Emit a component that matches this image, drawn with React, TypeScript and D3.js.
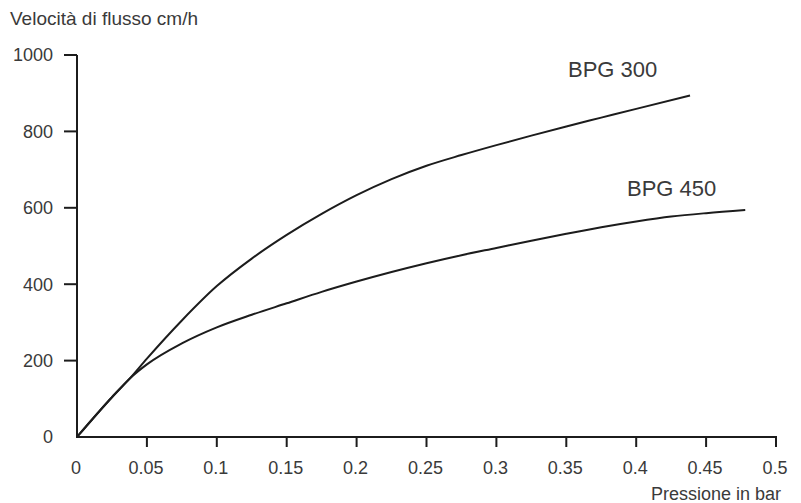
import * as d3 from 'd3'

// readings
const pressure300 = [0, 0.025, 0.038, 0.05, 0.075, 0.1, 0.125, 0.15, 0.175, 0.2, 0.225, 0.25, 0.275, 0.3, 0.325, 0.35, 0.375, 0.4, 0.4385]
const flow300 = [0, 104, 154, 205, 305, 395, 467, 529, 584, 633, 675, 710, 738, 764, 789, 813, 836, 859, 894]
const pressure450 = [0, 0.025, 0.038, 0.05, 0.075, 0.1, 0.125, 0.15, 0.175, 0.2, 0.225, 0.25, 0.275, 0.3, 0.325, 0.35, 0.375, 0.4, 0.425, 0.45, 0.478]
const flow450 = [0, 104, 154, 190, 245, 287, 320, 350, 380, 407, 432, 455, 476, 495, 514, 532, 549, 564, 577, 586, 594]
const xTicks = [0, 0.05, 0.1, 0.15, 0.2, 0.25, 0.3, 0.35, 0.4, 0.45, 0.5]
const yTicks = [0, 200, 400, 600, 800, 1000]

const W = 801
const H = 503
const textColor = '#3a3a3a'
const lineColor = '#1c1c1c'
const font = '"Liberation Sans", Arial, sans-serif'

export default function App() {
  const x = d3.scaleLinear().domain([0, 0.5]).range([77, 776])
  const y = d3.scaleLinear().domain([0, 1000]).range([437, 55])

  const line = d3.line<[number, number]>()
    .x(d => x(d[0]))
    .y(d => y(d[1]))
    .curve(d3.curveMonotoneX)

  const series = [
    { name: 'BPG 300', pts: pressure300.map((p, i) => [p, flow300[i]] as [number, number]), lx: 568, ly: 77 },
    { name: 'BPG 450', pts: pressure450.map((p, i) => [p, flow450[i]] as [number, number]), lx: 627, ly: 196 },
  ]

  return (
    <div style={{ position: 'fixed', left: 0, top: 0 }}>
      <svg width={W} height={H} style={{ display: 'block', background: '#fff' }} fontFamily={font}>
        <text x={10} y={25} fontSize={19} fill={textColor}>Velocità di flusso cm/h</text>

        {/* y axis */}
        <line x1={x(0)} x2={x(0)} y1={y(1000)} y2={y(0)} stroke={lineColor} strokeWidth={2} />
        {yTicks.map(t => (
          <g key={'y' + t}>
            {t > 0 && <line x1={x(0) - 13} x2={x(0)} y1={y(t)} y2={y(t)} stroke={lineColor} strokeWidth={2} />}
            <text x={53} y={y(t)} dy="0.35em" textAnchor="end" fontSize={18} fill={textColor}>{t}</text>
          </g>
        ))}

        {/* x axis */}
        <line x1={x(0) - 1} x2={x(0.5) + 1} y1={y(0)} y2={y(0)} stroke={lineColor} strokeWidth={2} />
        {xTicks.map(t => (
          <g key={'x' + t}>
            {t > 0 && <line x1={x(t)} x2={x(t)} y1={y(0)} y2={y(0) + 10} stroke={lineColor} strokeWidth={2} />}
            <text x={x(t) - 1} y={474} textAnchor="middle" fontSize={18} fill={textColor}>{String(t)}</text>
          </g>
        ))}
        <text x={781} y={500} textAnchor="end" fontSize={18} fill={textColor}>Pressione in bar</text>

        {series.map(s => (
          <g key={s.name}>
            <path d={line(s.pts) ?? ''} fill="none" stroke={lineColor} strokeWidth={2} />
            <text x={s.lx} y={s.ly} fontSize={22} fill={textColor}>{s.name}</text>
          </g>
        ))}
      </svg>
    </div>
  )
}
